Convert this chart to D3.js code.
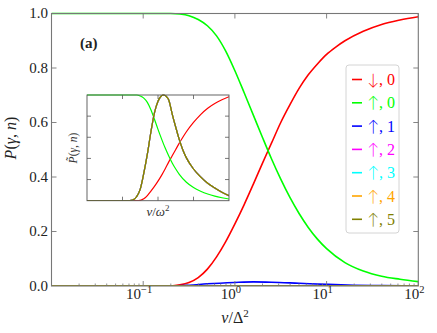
<!DOCTYPE html>
<html><head><meta charset="utf-8">
<script src="https://cdn.jsdelivr.net/npm/d3@7"></script>
<style>
body{margin:0;background:#fff;}
svg{display:block;}
</style></head><body>
<svg id="c" width="437" height="333"></svg>
<script>
// ---------- data: main panel ----------
const downZeroV = [0.01, 0.1995, 0.2512, 0.3162, 0.3981, 0.5012, 0.631, 0.7943, 1, 1.259, 1.585, 1.995, 2.512, 3.162, 3.981, 5.012, 6.31, 7.943, 10, 12.59, 15.85, 25.12, 39.81, 63.1, 100];
const downZeroP = [0, 0, 0.004, 0.013, 0.031, 0.062, 0.107, 0.163, 0.228, 0.298, 0.373, 0.45, 0.525, 0.6, 0.665, 0.725, 0.775, 0.815, 0.85, 0.877, 0.9, 0.935, 0.96, 0.976, 0.988];
const upZeroV = [0.01, 0.1995, 0.2512, 0.3162, 0.3981, 0.5012, 0.631, 0.7943, 1, 1.259, 1.585, 1.995, 2.512, 3.162, 3.981, 5.012, 6.31, 7.943, 10, 15.85, 25.12, 39.81, 63.1, 100];
const upZeroP = [1, 1, 0.998, 0.992, 0.978, 0.955, 0.918, 0.862, 0.79, 0.71, 0.628, 0.546, 0.466, 0.392, 0.325, 0.266, 0.215, 0.172, 0.137, 0.086, 0.055, 0.036, 0.025, 0.016];
const upOneV = [0.01, 0.2, 0.32, 0.5, 1.0, 1.6, 2.5, 5, 10, 20, 40, 100];
const upOneP = [0, 0, 0.003, 0.008, 0.013, 0.015, 0.014, 0.01, 0.006, 0.003, 0.0015, 0.0005];
const upTwoV = [0.01, 0.25, 0.6, 1.5, 4, 15, 100];
const upTwoP = [0, 0, 0.0004, 0.0008, 0.0005, 0.0001, 0];
const upThreeV = [0.01, 0.3, 0.8, 2, 6, 20, 100];
const upThreeP = [0, 0, 0.0002, 0.0004, 0.0002, 0, 0];
const upFourV = [0.01, 0.3, 1, 2.5, 8, 100];
const upFourP = [0, 0, 0.0001, 0.0002, 0.0001, 0];
const upFiveV = [0.01, 0.3, 1, 3, 10, 100];
const upFiveP = [0, 0, 0.00005, 0.0001, 0.00005, 0];

// ---------- data: inset (normalised) ----------
const insDownZeroV = [0.01, 0.2818, 0.3981, 0.5012, 0.631, 0.7943, 1, 1.259, 1.585, 1.995, 2.512, 3.162, 3.981, 5.012, 6.31, 10, 15.85, 25.12, 39.81, 63.1, 100];
const insDownZeroP = [0, 0, 0.018, 0.048, 0.09, 0.135, 0.185, 0.24, 0.3, 0.365, 0.425, 0.485, 0.545, 0.6, 0.652, 0.74, 0.815, 0.875, 0.92, 0.955, 0.984];
const insUpZeroV = [0.01, 0.2512, 0.3162, 0.3981, 0.5012, 0.631, 0.7943, 1, 1.259, 1.585, 1.995, 2.512, 3.162, 3.981, 6.31, 10, 15.85, 25.12, 39.81, 63.1, 100];
const insUpZeroP = [1, 1, 0.99, 0.97, 0.93, 0.86, 0.77, 0.675, 0.585, 0.5, 0.425, 0.357, 0.3, 0.25, 0.175, 0.125, 0.09, 0.063, 0.043, 0.028, 0.016];
const insUpNV = [0.01, 0.1585, 0.1995, 0.2512, 0.3162, 0.3981, 0.5012, 0.631, 0.7943, 1, 1.259, 1.413, 1.585, 1.778, 1.995, 2.512, 3.162, 3.981, 5.012, 6.31, 10, 15.85, 25.12, 39.81, 63.1, 100];
const insUpNP = [0, 0, 0.008, 0.04, 0.11, 0.26, 0.44, 0.65, 0.83, 0.94, 0.993, 1.0, 0.995, 0.98, 0.955, 0.82, 0.695, 0.578, 0.48, 0.405, 0.3, 0.225, 0.165, 0.12, 0.08, 0.047];

// ---------- ticks / labels ----------
const xMajorTicks = [0.1, 1, 10, 100];
const xMajorExp = ["\u22121", "0", "1", "2"];
const yTicks = [0, 0.2, 0.4, 0.6, 0.8, 1.0];
const yTickLabels = ["0.0", "0.2", "0.4", "0.6", "0.8", "1.0"];
const insXTicks = [0.1, 1, 10];
const insYTicks = [0.2, 0.4, 0.6, 0.8];

const seriesArrows = ["\u2193", "\u2191", "\u2191", "\u2191", "\u2191", "\u2191", "\u2191"];
const seriesNums = ["0", "0", "1", "2", "3", "4", "5"];
const seriesColors = ["#ff0000", "#00ff00", "#0000ff", "#ff00ff", "#00ffff", "#ffa500", "#808000"];
const mainV = [downZeroV, upZeroV, upOneV, upTwoV, upThreeV, upFourV, upFiveV];
const mainP = [downZeroP, upZeroP, upOneP, upTwoP, upThreeP, upFourP, upFiveP];
const insV = [insDownZeroV, insUpZeroV, insUpNV, insUpNV, insUpNV, insUpNV, insUpNV];
const insP = [insDownZeroP, insUpZeroP, insUpNP, insUpNP, insUpNP, insUpNP, insUpNP];

const svg = d3.select("#c");
const axisCol = "#777";
const FONT = "'Liberation Serif'";

// ---------- main panel ----------
const L = 51.5, R = 418.3, T = 13.5, B = 286;
const x = d3.scaleLog().domain([0.01, 100]).range([L, R]);
const y = d3.scaleLinear().domain([0, 1]).range([B, T]);

const line = d3.line().x(d => x(d[0])).y(d => y(d[1])).curve(d3.curveMonotoneX);
const gMain = svg.append("g");
gMain.append("clipPath").attr("id", "clipMain").append("rect")
  .attr("x", L).attr("y", T - 2).attr("width", R - L).attr("height", B - T + 2);
const gLines = gMain.append("g").attr("clip-path", "url(#clipMain)");
mainV.forEach((vs, i) => {
  gLines.append("path")
    .attr("d", line(vs.map((v, j) => [v, mainP[i][j]])))
    .attr("fill", "none").attr("stroke", seriesColors[i]).attr("stroke-width", 1.6);
});

// frame
gMain.append("rect").attr("x", L).attr("y", T).attr("width", R - L).attr("height", B - T)
  .attr("fill", "none").attr("stroke", axisCol).attr("stroke-width", 1.1);

// x ticks
const minor = x.ticks().filter(t => Math.abs(Math.log10(t) - Math.round(Math.log10(t))) > 1e-6);
minor.forEach(t => {
  gMain.append("line").attr("x1", x(t)).attr("x2", x(t)).attr("y1", B).attr("y2", B - 2.5)
    .attr("stroke", axisCol).attr("stroke-width", 0.8);
});
xMajorTicks.forEach((t, i) => {
  gMain.append("line").attr("x1", x(t)).attr("x2", x(t)).attr("y1", B).attr("y2", B - 5)
    .attr("stroke", axisCol).attr("stroke-width", 0.9);
  gMain.append("line").attr("x1", x(t)).attr("x2", x(t)).attr("y1", T).attr("y2", T + 5)
    .attr("stroke", axisCol).attr("stroke-width", 0.9);
  const tx = gMain.append("text").attr("x", x(t) - 4).attr("y", 298.5).style("font-family", FONT)
    .attr("text-anchor", "middle").attr("font-size", 15).attr("fill", "#222");
  tx.append("tspan").text("10");
  tx.append("tspan").attr("dy", -6).attr("font-size", 10.5).text(xMajorExp[i]);
});
// y ticks
yTicks.forEach((t, i) => {
  if (t > 0 && t < 1) {
    gMain.append("line").attr("x1", L).attr("x2", L + 5).attr("y1", y(t)).attr("y2", y(t))
      .attr("stroke", axisCol).attr("stroke-width", 0.9);
    gMain.append("line").attr("x1", R).attr("x2", R - 5).attr("y1", y(t)).attr("y2", y(t))
      .attr("stroke", axisCol).attr("stroke-width", 0.9);
  }
  gMain.append("text").attr("x", 48).attr("y", y(t) + 4.5).attr("text-anchor", "end").style("font-family", FONT)
    .attr("font-size", 15).attr("fill", "#222").text(yTickLabels[i]);
});

// axis titles
const xt = svg.append("text").attr("x", 235).attr("y", 323).attr("text-anchor", "middle").style("font-family", FONT)
  .attr("font-size", 16).attr("fill", "#222");
xt.append("tspan").attr("font-style", "italic").text("v");
xt.append("tspan").text("/\u0394");
xt.append("tspan").attr("dy", -6).attr("font-size", 11).text("2");

const yt = svg.append("text").attr("transform", "translate(16,138) rotate(-90)").style("font-family", FONT)
  .attr("text-anchor", "middle").attr("font-size", 16).attr("fill", "#222");
yt.append("tspan").attr("font-style", "italic").text("P");
yt.append("tspan").text("(");
yt.append("tspan").attr("font-style", "italic").text("\u03b3");
yt.append("tspan").text(", ");
yt.append("tspan").attr("font-style", "italic").text("n");
yt.append("tspan").text(")");

svg.append("text").attr("x", 80).attr("y", 48).attr("font-size", 15).attr("font-weight", "bold").style("font-family", FONT)
  .attr("fill", "#222").text("(a)");

// ---------- inset ----------
const iL = 87, iR = 229, iT = 95, iB = 200.7;
const ix = d3.scaleLog().domain([0.01, 100]).range([iL, iR]);
const iy = d3.scaleLinear().domain([0, 1]).range([iB, iT]);
const iline = d3.line().x(d => ix(d[0])).y(d => iy(d[1])).curve(d3.curveMonotoneX);
const gIn = svg.append("g");
gIn.append("rect").attr("x", iL).attr("y", iT).attr("width", iR - iL).attr("height", iB - iT)
  .attr("fill", "#fff");
gIn.append("clipPath").attr("id", "clipIn").append("rect")
  .attr("x", iL).attr("y", iT - 1).attr("width", iR - iL).attr("height", iB - iT + 1);
const gIL = gIn.append("g").attr("clip-path", "url(#clipIn)");
insV.forEach((vs, i) => {
  gIL.append("path")
    .attr("d", iline(vs.map((v, j) => [v, insP[i][j]])))
    .attr("fill", "none").attr("stroke", seriesColors[i]).attr("stroke-width", 1.2);
});
gIn.append("rect").attr("x", iL).attr("y", iT).attr("width", iR - iL).attr("height", iB - iT)
  .attr("fill", "none").attr("stroke", "#555").attr("stroke-width", 0.9);
insXTicks.forEach(t => {
  gIn.append("line").attr("x1", ix(t)).attr("x2", ix(t)).attr("y1", iB).attr("y2", iB - 4)
    .attr("stroke", "#555").attr("stroke-width", 0.8);
  gIn.append("line").attr("x1", ix(t)).attr("x2", ix(t)).attr("y1", iT).attr("y2", iT + 4)
    .attr("stroke", "#555").attr("stroke-width", 0.8);
});
insYTicks.forEach(t => {
  gIn.append("line").attr("x1", iL).attr("x2", iL + 4).attr("y1", iy(t)).attr("y2", iy(t))
    .attr("stroke", "#555").attr("stroke-width", 0.8);
  gIn.append("line").attr("x1", iR).attr("x2", iR - 4).attr("y1", iy(t)).attr("y2", iy(t))
    .attr("stroke", "#555").attr("stroke-width", 0.8);
});
const ixt = svg.append("text").attr("x", 158).attr("y", 216).attr("text-anchor", "middle").style("font-family", FONT)
  .attr("font-size", 13).attr("fill", "#333");
ixt.append("tspan").attr("font-style", "italic").text("v");
ixt.append("tspan").text("/");
ixt.append("tspan").attr("font-style", "italic").text("\u03c9");
ixt.append("tspan").attr("dy", -5).attr("font-size", 9).text("2");
const iyt = svg.append("text").attr("transform", "translate(77,148) rotate(-90)").style("font-family", FONT)
  .attr("text-anchor", "middle").attr("font-size", 11.5).attr("fill", "#333");
iyt.append("tspan").attr("font-style", "italic").text("P\u0303");
iyt.append("tspan").text("(");
iyt.append("tspan").attr("font-style", "italic").text("\u03b3");
iyt.append("tspan").text(", ");
iyt.append("tspan").attr("font-style", "italic").text("n");
iyt.append("tspan").text(")");

// ---------- legend ----------
const lg = svg.append("g");
lg.append("rect").attr("x", 346).attr("y", 65).attr("width", 53).attr("height", 168)
  .attr("rx", 3).attr("fill", "#fff").attr("fill-opacity", 0.85)
  .attr("stroke", "#d4d4d4").attr("stroke-width", 1);
seriesNums.forEach((n, i) => {
  const yy = 79.5 + i * 23.3;
  lg.append("line").attr("x1", 352).attr("x2", 362).attr("y1", yy).attr("y2", yy)
    .attr("stroke", seriesColors[i]).attr("stroke-width", 1.6);
  const t = lg.append("text").attr("x", 367).attr("y", yy + 5.5).attr("font-size", 16).style("font-family", FONT)
    .attr("fill", seriesColors[i]);
  t.append("tspan").style("font-family", "Lato").attr("font-weight", 300).text(seriesArrows[i]);
  t.append("tspan").text(", " + n);
});
</script>
</body></html>
